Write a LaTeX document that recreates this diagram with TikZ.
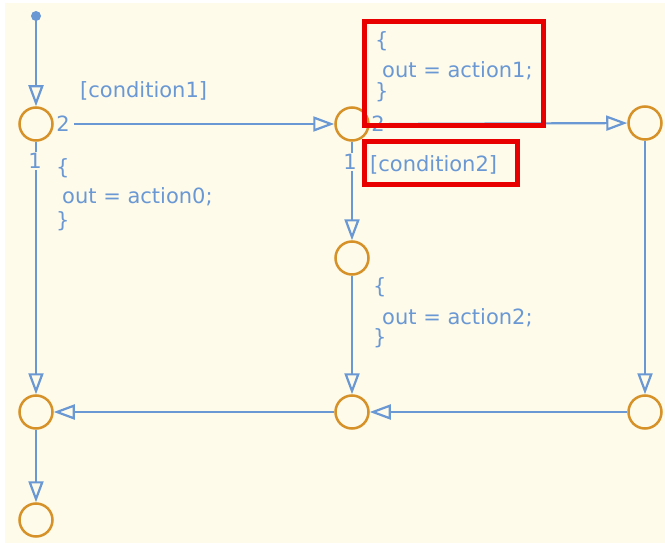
\documentclass[tikz,border=0pt]{standalone}
\usepackage{fontspec}
\setmainfont{DejaVu Sans}
\usepackage{xcolor}
\usetikzlibrary{arrows.meta, positioning, calc}

\definecolor{chartbg}{RGB}{255,251,234}
\definecolor{flowblue}{RGB}{105,152,212}
\definecolor{junctorange}{RGB}{214,146,40}
\definecolor{markred}{RGB}{232,0,0}

\tikzset{
  junct/.style={circle, draw=junctorange, line width=2.5pt, minimum size=33pt, inner sep=0pt},
  flow/.style={draw=flowblue, line width=2.2pt, -{Triangle[open, length=21pt, width=15pt]}},
  lbl/.style={text=flowblue, font=\fontsize{21}{24}\selectfont, inner sep=0pt},
  prio/.style={lbl, fill=chartbg, inner sep=1pt},
  markbox/.style={draw=markred, line width=5pt}
}

\begin{document}
\begin{tikzpicture}[x=1pt, y=-1pt]
        \useasboundingbox (0,0) rectangle (665,543);
        \fill[chartbg] (5,3) rectangle (665,543);

        % junctions
        \node[junct] (j1) at (36,124) {};
        \node[junct] (j2) at (352,124) {};
        \node[junct] (j3) at (645,123) {};
        \node[junct] (j4) at (352,258) {};
        \node[junct] (j5) at (36,412) {};
        \node[junct] (j6) at (352,412) {};
        \node[junct] (j7) at (645,412) {};
        \node[junct] (j8) at (36,520) {};
        \fill[flowblue] (36,16) circle (5) coordinate (start);

        % execution order
        \node[lbl] (p12) at (63,124) {2};
        \node[prio] (p11) at (35,161) {1};
        \node[lbl] (p22) at (378,124) {2};
        \node[prio] (p21) at (350,162) {1};

        % transitions
        \draw[flow] (start) -- (j1);
        \draw[flow, shorten <=4pt] (p12) -- (j2);
        \draw[flow] (j1) -- (j5);
        \draw[flow, shorten <=4pt] (p22) -- (j3);
        \draw[flow] (j2) -- (j4);
        \draw[flow] (j4) -- (j6);
        \draw[flow] (j3) -- (j7);
        \draw[flow] (j7) -- (j6);
        \draw[flow] (j6) -- (j5);
        \draw[flow] (j5) -- (j8);
        \node[prio] at (p11) {1};
        \node[prio] at (p21) {1};

        % conditions and actions
        \node[lbl, anchor=west] (c1) at (80,91) {[condition1]};
        \node[lbl, anchor=west] (c2) at (370,165) {[condition2]};

        \node[lbl, anchor=west] (a0o) at (56,168) {\{};
        \node[lbl, anchor=base west] (a0) at (62,204) {out = action0;};
        \node[lbl, anchor=west] (a0c) at (56,221) {\}};

        \node[lbl, anchor=west] (a1o) at (375,41) {\{};
        \node[lbl, anchor=base west] (a1) at (382,78) {out = action1;};
        \node[lbl, anchor=west] (a1c) at (375,92) {\}};

        \node[lbl, anchor=west] (a2o) at (373,287) {\{};
        \node[lbl, anchor=base west] (a2) at (382,324) {out = action2;};
        \node[lbl, anchor=west] (a2c) at (373,338) {\}};

        % highlights
        \draw[markbox] (364,22) rectangle (543,126);
        \draw[markbox] (364,142) rectangle (517,184);
    \end{tikzpicture}
\end{document}
